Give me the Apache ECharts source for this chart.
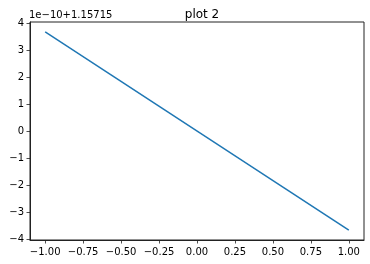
<!DOCTYPE html>
<html><head><meta charset="utf-8">
<script src="https://cdn.jsdelivr.net/npm/echarts@6/dist/echarts.min.js"></script>
<style>html,body{margin:0;padding:0;background:#fff}#c{width:370px;height:264px}</style>
</head><body><div id="c"></div>
<script>
const xValues = [-1, 1];
const yValues = [3.67, -3.67];
const xTicks = [-1, -0.75, -0.5, -0.25, 0, 0.25, 0.5, 0.75, 1];
const yTicks = [-4, -3, -2, -1, 0, 1, 2, 3, 4];
const titleText = 'plot 2';
const offsetText = '1e\u221210+1.15715';

const fmtMinus = s => String(s).replace('-', '\u2212');
const chart = echarts.init(document.getElementById('c'), null, {renderer: 'canvas'});
const axisCommon = {
  axisLine: {show: true, onZero: false, lineStyle: {color: '#222', width: 1}},
  axisTick: {show: true, inside: false, length: 3.5, lineStyle: {color: '#222', width: 0.8}},
  splitLine: {show: false},
};
chart.setOption({
  animation: false,
  title: {text: titleText, left: 197, top: 4, textAlign: 'center',
    textStyle: {fontFamily: 'DejaVu Sans', fontSize: 12, fontWeight: 'normal', color: '#000'}},
  graphic: [{type: 'text', left: 29, top: 10,
    style: {text: offsetText, font: '10px "DejaVu Sans"', fill: '#000'}}],
  grid: {left: 30, right: 6, top: 22, bottom: 24, show: true, borderColor: '#222', borderWidth: 1},
  xAxis: Object.assign({}, axisCommon, {
    type: 'value', min: -1.1, max: 1.1,
    axisTick: Object.assign({}, axisCommon.axisTick, {customValues: xTicks}),
    axisLabel: {customValues: xTicks, margin: 7, fontFamily: 'DejaVu Sans', fontSize: 10, color: '#000',
      formatter: v => fmtMinus(v.toFixed(2))}
  }),
  yAxis: Object.assign({}, axisCommon, {
    type: 'value', min: -4.04, max: 4.04,
    axisTick: Object.assign({}, axisCommon.axisTick, {customValues: yTicks}),
    axisLabel: {customValues: yTicks, margin: 6, fontFamily: 'DejaVu Sans', fontSize: 10, color: '#000',
      formatter: v => fmtMinus(Math.round(v))}
  }),
  series: [{type: 'line', data: xValues.map((x, i) => [x, yValues[i]]), showSymbol: false,
    lineStyle: {color: '#1f77b4', width: 1.5}}]
});
</script></body></html>
